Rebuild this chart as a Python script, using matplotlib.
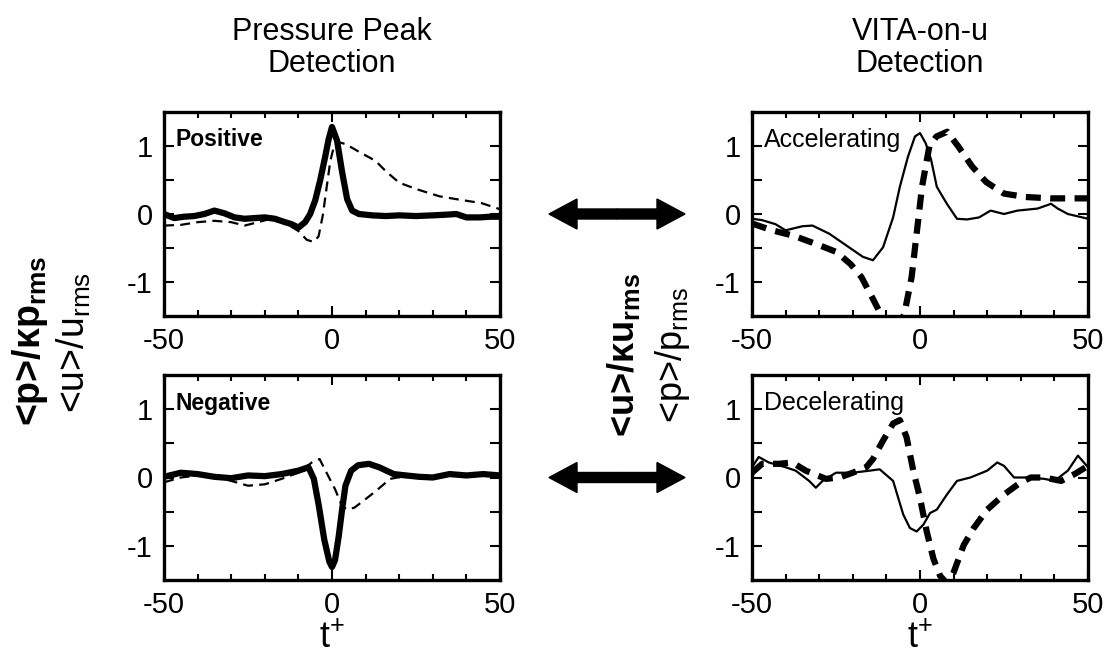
import numpy as np
import matplotlib
matplotlib.use('Agg')
import matplotlib.pyplot as plt
from matplotlib.patches import FancyArrow
from matplotlib.ticker import MultipleLocator, FixedLocator

plt.rcParams['font.family'] = ['Liberation Sans', 'DejaVu Sans']
plt.rcParams['mathtext.default'] = 'regular'
plt.rcParams['axes.unicode_minus'] = False

# ---------------- data ----------------
# Pressure peak detection, positive: <p>/k p_rms (thick solid)
t_pos_p = [-50, -47, -44, -41, -38, -35, -32, -29, -26, -23, -20, -17, -14, -12, -10, -8, -6.5,
           -5, -3.5, -2, -1, 0, 1.5, 3, 4.5, 6, 8, 12, 16, 20, 25, 30, 34, 37, 40, 44, 47, 50]
v_pos_p = [0.00, -0.06, -0.04, -0.03, 0.00, 0.05, 0.01, -0.05, -0.07, -0.06, -0.05, -0.07, -0.12,
           -0.15, -0.20, -0.12, 0.00, 0.20, 0.50, 0.85, 1.10, 1.28, 1.08, 0.62, 0.22, 0.05, 0.00,
           -0.02, -0.03, -0.02, -0.03, -0.02, -0.01, 0.00, -0.05, -0.05, -0.04, -0.04]
# positive: <u>/u_rms (thin dashed)
t_pos_u = [-50, -45, -40, -35, -30, -26, -22, -19, -14, -10, -7.5, -5.5, -4, -2.7, -1.6, -0.5,
           0.5, 1.6, 4, 7.5, 13, 16, 20, 25.5, 32, 38, 44.5, 50]
v_pos_u = [-0.17, -0.16, -0.12, -0.10, -0.12, -0.17, -0.12, -0.08, -0.13, -0.25, -0.38, -0.41,
           -0.33, -0.01, 0.39, 0.78, 0.98, 1.06, 1.03, 0.93, 0.78, 0.63, 0.46, 0.36, 0.26, 0.21,
           0.16, 0.07]

# Pressure peak detection, negative
t_neg_p = [-50, -45, -40, -35, -30, -25, -20, -15, -10, -7, -5.4, -3.9, -2.3, -0.8, 0, 0.9, 2, 3,
           4, 5.7, 7.8, 11, 14, 18.4, 22, 26, 30, 35, 40, 45, 50]
v_neg_p = [0.01, 0.07, 0.05, 0.01, -0.01, 0.03, 0.02, 0.05, 0.10, 0.15, -0.02, -0.42, -0.91,
           -1.23, -1.31, -1.21, -0.86, -0.47, -0.12, 0.10, 0.18, 0.20, 0.15, 0.05, 0.03, 0.01,
           0.00, 0.05, 0.03, 0.05, 0.03]
t_neg_u = [-50, -45, -40, -35, -30, -25, -20, -15, -10, -6, -3.7, -1.1, 0.9, 3, 4.6, 6.7, 9.9,
           13, 17.3, 19.5, 25, 30, 35, 40, 45, 50]
v_neg_u = [-0.07, 0.00, 0.03, 0.02, -0.05, -0.12, -0.10, -0.02, 0.07, 0.22, 0.27, 0.02, -0.17,
           -0.42, -0.47, -0.44, -0.32, -0.20, -0.02, 0.00, 0.02, 0.00, 0.04, 0.03, 0.05, 0.03]

# VITA-on-u detection, accelerating: <u>/k u_rms (thin solid)
t_acc_u = [-50, -47, -43, -40, -35, -32, -27, -22, -17, -14, -11, -8, -6, -3.6, -1.5, 0, 1.7,
           3.3, 5, 8, 11, 14, 17.6, 21, 25, 29, 35, 39, 41, 44, 50]
v_acc_u = [-0.07, -0.09, -0.15, -0.24, -0.18, -0.17, -0.29, -0.46, -0.63, -0.68, -0.49, -0.05,
           0.40, 0.84, 1.14, 1.19, 1.04, 0.80, 0.40, 0.15, -0.07, -0.08, -0.05, 0.05, 0.00, 0.05,
           0.08, 0.15, 0.08, 0.00, -0.07]
# accelerating: <p>/p_rms (thick dashed)
t_acc_p = [-50, -44, -37.6, -31, -24.8, -20.6, -17.4, -14.2, -11.6, -8, -4.7, -2.5, -1, 0.6,
           2.8, 4.9, 8.1, 11.3, 15.5, 19.7, 25, 31.4, 38.9, 50]
v_acc_p = [-0.14, -0.24, -0.32, -0.44, -0.56, -0.74, -0.93, -1.23, -1.48, -1.75, -1.48, -0.93,
           -0.29, 0.40, 1.00, 1.14, 1.21, 1.00, 0.70, 0.47, 0.30, 0.25, 0.23, 0.23]

# VITA-on-u detection, decelerating
t_dec_u = [-50, -48, -45, -40, -37, -33, -31, -29, -25, -20, -15, -12, -8, -5, -3, -1, 1, 3, 5,
           8, 11, 15, 20, 23, 25, 28, 32, 37, 40, 44, 47, 50]
v_dec_u = [0.15, 0.30, 0.22, 0.15, 0.10, -0.05, -0.15, -0.05, 0.07, 0.07, 0.10, 0.12, -0.05,
           -0.54, -0.74, -0.79, -0.69, -0.52, -0.47, -0.25, -0.05, 0.00, 0.10, 0.22, 0.17, 0.00,
           0.00, -0.02, -0.05, 0.10, 0.32, 0.15]
t_dec_p = [-50, -47, -42, -38, -34, -28, -24, -20, -16, -14, -11, -8, -6, -4, -2, 0, 2, 4, 6, 8,
           10, 13, 16, 20, 25, 30, 33, 37, 42, 46, 50]
v_dec_p = [0.07, 0.20, 0.20, 0.22, 0.10, -0.02, 0.00, 0.07, 0.15, 0.27, 0.54, 0.79, 0.84, 0.59,
           0.10, -0.30, -0.79, -1.19, -1.44, -1.55, -1.39, -0.99, -0.74, -0.47, -0.25, -0.07,
           0.00, 0.00, -0.05, 0.05, 0.17]

panel_titles = ["Pressure Peak\nDetection", "VITA-on-u\nDetection"]
panel_tags = ["Positive", "Accelerating", "Negative", "Decelerating"]
x_ticks = [-50, 0, 50]
y_ticks = [-1, 0, 1]

# ---------------- figure ----------------
W, H = 1105, 657
fig = plt.figure(figsize=(W / 100, H / 100), dpi=100)

def px_axes(x0, y0, x1, y1):
    return fig.add_axes([x0 / W, 1 - y1 / H, (x1 - x0) / W, (y1 - y0) / H])

ax_tl = px_axes(164, 112, 500, 316)
ax_tr = px_axes(752, 112, 1088, 316)
ax_bl = px_axes(164, 375, 500, 580)
ax_br = px_axes(752, 375, 1088, 580)

thick = 4.5
thin = 1.6

ax_tl.plot(t_pos_p, v_pos_p, color='black', lw=thick, solid_joinstyle='round', solid_capstyle='round')
ax_tl.plot(t_pos_u, v_pos_u, color='black', lw=thin, dashes=(4.5, 2.8))
ax_bl.plot(t_neg_p, v_neg_p, color='black', lw=thick, solid_joinstyle='round', solid_capstyle='round')
ax_bl.plot(t_neg_u, v_neg_u, color='black', lw=thin, dashes=(4.5, 2.8))
ax_tr.plot(t_acc_u, v_acc_u, color='black', lw=thin)
ax_tr.plot(t_acc_p, v_acc_p, color='black', lw=thick, dashes=(2.4, 1.5))
ax_br.plot(t_dec_u, v_dec_u, color='black', lw=thin)
ax_br.plot(t_dec_p, v_dec_p, color='black', lw=thick, dashes=(2.4, 1.5))

for ax, tag, bold in [(ax_tl, panel_tags[0], True), (ax_tr, panel_tags[1], False),
                      (ax_bl, panel_tags[2], True), (ax_br, panel_tags[3], False)]:
    ax.set_xlim(-50, 50)
    ax.set_ylim(-1.5, 1.5)
    ax.set_xticks(x_ticks)
    ax.set_yticks(y_ticks)
    ax.xaxis.set_minor_locator(MultipleLocator(10))
    ax.yaxis.set_minor_locator(FixedLocator([-0.5, 0.5]))
    ax.tick_params(which='both', direction='in', top=True, right=True, width=1.5)
    ax.tick_params(which='major', length=7, labelsize=21, pad=8)
    ax.tick_params(axis='x', which='minor', length=4)
    ax.tick_params(axis='y', which='minor', length=7)
    for s in ax.spines.values():
        s.set_linewidth(2.4)
    ax.text(0.035, 1.09, tag, transform=ax.get_yaxis_transform(), ha='left', va='center',
            fontsize=16.5 if bold else 18, fontweight='bold' if bold else 'normal')

for ax in (ax_bl, ax_br):
    ax.set_xlabel('t$^{+}$', fontsize=26, labelpad=1)

# titles
fig.text(332 / W, 1 - 48 / H, panel_titles[0], ha='center', va='center', fontsize=22,
         linespacing=1.05)
fig.text(920 / W, 1 - 48 / H, panel_titles[1], ha='center', va='center', fontsize=22,
         linespacing=1.05)

# y labels
fig.text(30 / W, 1 - 341 / H, '<p>/κp$_{rms}$', rotation=90, ha='center', va='center',
         fontsize=27, fontweight='bold')
fig.text(74 / W, 1 - 342 / H, '<u>/u$_{rms}$', rotation=90, ha='center', va='center',
         fontsize=27)
fig.text(624 / W, 1 - 355 / H, '<u>/κu$_{rms}$', rotation=90, ha='center', va='center',
         fontsize=26, fontweight='bold')
fig.text(672 / W, 1 - 355 / H, '<p>/p$_{rms}$', rotation=90, ha='center', va='center',
         fontsize=26)

# double arrows (in inches), located at the zero level of each row
def zero_level_in(ax):
    b = ax.get_position()
    return (b.y0 + 0.5 * b.height) * H / 100

for ax in (ax_tl, ax_bl):
    yc = zero_level_in(ax)
    xc = 617 / 100
    for d in (-1, 1):
        fig.add_artist(FancyArrow(xc, yc, d * 0.68, 0, width=0.10, head_width=0.30,
                                  head_length=0.28, length_includes_head=True,
                                  color='black', transform=fig.dpi_scale_trans))

fig.savefig('out.png', dpi=100)
